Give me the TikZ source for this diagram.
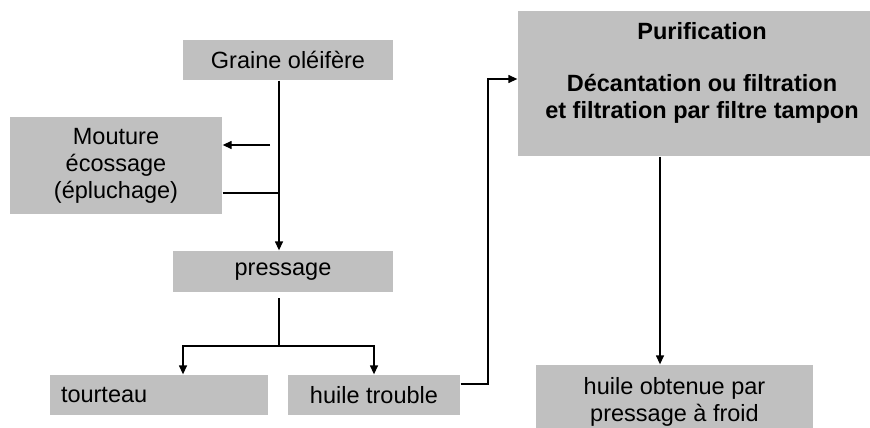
\documentclass[tikz,border=0pt]{standalone}
\usepackage{fontspec}
\setmainfont{Liberation Sans}
\usetikzlibrary{arrows.meta}
\definecolor{boxgray}{RGB}{192,192,192}

\begin{document}
\begin{tikzpicture}[x=1pt, y=-1pt, line width=1.3pt,
	box/.style={fill=boxgray, inner sep=0pt, align=center, font=\fontsize{23.5}{27}\selectfont},
	arr/.style={-{Triangle[length=9pt, width=8pt]}}]
		\useasboundingbox (0,0) rectangle (870,428);

		\node[box, minimum width=210, minimum height=40] (graine) at (288,60) {Graine oléifère};
		\node[box, minimum width=212, minimum height=97] (mouture) at (116,165.5) {Mouture\\écossage\\(épluchage)};
		\node[box, minimum width=220, minimum height=41] (pressage) at (283,271.5) {pressage};
		\node[box, minimum width=218, minimum height=40, text width=196, align=left] (tourteau) at (159,395) {tourteau};
		\node[box, minimum width=172, minimum height=40] (trouble) at (374,395) {huile trouble};
		\node[box, minimum width=368, minimum height=145] (purif) at (702,83.5) {};
		\node[box, fill=none, font=\fontsize{23.5}{27}\selectfont\bfseries] (purif text) at (702,72.5)
			{Purification\\[25pt]Décantation ou filtration\\et filtration par filtre tampon};
		\node[box, minimum width=277, minimum height=73] (obtenue) at (674.5,401.5) {huile obtenue par\\pressage à froid};

		\coordinate (spine) at (279,0);
		\draw[arr] (graine.south -| spine) -- (pressage.north -| spine);
		\coordinate (m1) at (270,145);
		\draw[arr] (m1) -- (m1 -| mouture.east);
		\coordinate (m2) at (279,193);
		\draw (mouture.east |- m2) -- (m2);

		\coordinate (p1) at (279,298);
		\coordinate (fork) at (279,346);
		\draw (p1) -- (fork);
		\draw[arr] (fork) -| ([xshift=24pt]tourteau.north);
		\draw[arr] (fork) -| (trouble.north);

		\coordinate (up) at (488,79);
		\draw[arr] (trouble.east |- 0,384) -| (up) -- (up -| purif.west);
		\draw[arr] (purif.south -| 660,0) -- (obtenue.north -| 660,0);
	\end{tikzpicture}
\end{document}
